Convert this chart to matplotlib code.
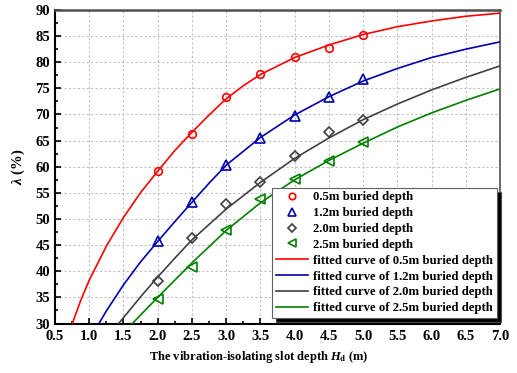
import numpy as np
import matplotlib
matplotlib.use("Agg")
import matplotlib.pyplot as plt
from matplotlib.ticker import MultipleLocator, FormatStrFormatter

plt.rcParams['font.family'] = ['Liberation Serif', 'DejaVu Serif']
plt.rcParams['font.weight'] = 'bold'
plt.rcParams['mathtext.fontset'] = 'custom'
plt.rcParams['mathtext.rm'] = 'Liberation Serif:bold'
plt.rcParams['mathtext.it'] = 'Liberation Serif:italic:bold'
plt.rcParams['mathtext.bf'] = 'Liberation Serif:bold'

# measured points (slot depth in m, lambda in %)
depth = [2.0, 2.5, 3.0, 3.5, 4.0, 4.5, 5.0]
lam_05 = [59.2, 66.3, 73.3, 77.8, 81.0, 82.8, 85.2]
lam_12 = [45.8, 53.3, 60.3, 65.5, 69.8, 73.3, 76.7]
lam_20 = [38.2, 46.4, 52.9, 57.1, 62.1, 66.7, 68.9]
lam_25 = [34.6, 40.9, 47.9, 53.8, 57.6, 61.1, 64.8]

# fitted curves
fit_x_05 = [0.753, 0.875, 1.0, 1.25, 1.5, 1.75, 2.0, 2.25, 2.5, 2.75, 3.0, 3.25, 3.5, 4.0, 4.5, 5.0, 5.5, 6.0, 6.5, 7.0]
fit_y_05 = [30.0, 34.4, 38.3, 44.8, 50.3, 55.05, 59.15, 63.1, 66.6, 69.9, 73.0, 75.5, 77.65, 80.9, 83.3, 85.3, 86.8, 87.9, 88.8, 89.4]
fit_x_12 = [1.142, 1.25, 1.5, 1.75, 2.0, 2.25, 2.5, 2.75, 3.0, 3.5, 4.0, 4.5, 5.0, 5.5, 6.0, 6.5, 7.0]
fit_y_12 = [30.0, 32.4, 37.4, 41.8, 45.7, 49.5, 53.2, 56.85, 60.3, 65.6, 69.9, 73.4, 76.4, 78.8, 80.9, 82.5, 83.9]
fit_x_20 = [1.43, 1.75, 2.0, 2.25, 2.5, 3.0, 3.5, 4.0, 4.5, 5.0, 5.5, 6.0, 6.5, 7.0]
fit_y_20 = [30.0, 35.1, 38.9, 42.5, 46.0, 51.9, 57.0, 61.6, 65.5, 69.0, 72.0, 74.7, 77.1, 79.3]
fit_x_25 = [1.63, 2.0, 2.5, 3.0, 3.5, 4.0, 4.5, 5.0, 5.5, 6.0, 6.5, 7.0]
fit_y_25 = [30.0, 35.0, 41.6, 47.8, 53.1, 57.5, 61.2, 64.5, 67.6, 70.3, 72.7, 74.9]

labels = ['0.5m', '1.2m', '2.0m', '2.5m']
colors = ['#ff0000', '#0000b0', '#404040', '#008000']
markers = ['o', '^', 'D', '<']
msizes = [5.5, 6.5, 5.0, 6.5]

fig = plt.figure(figsize=(5.17, 3.73), dpi=100)
ax = fig.add_axes([0.1064, 0.1327, 0.8607, 0.8405])

pts = [lam_05, lam_12, lam_20, lam_25]
fits = [(fit_x_05, fit_y_05), (fit_x_12, fit_y_12), (fit_x_20, fit_y_20), (fit_x_25, fit_y_25)]

handles = []
for lab, c, m, ms, y in zip(labels, colors, markers, msizes, pts):
    h, = ax.plot(depth, y, linestyle='none', marker=m, markersize=ms,
                 markerfacecolor='none', markeredgecolor=c, markeredgewidth=1.2,
                 label=lab + ' buried depth', zorder=4)
    handles.append(h)
for lab, c, (fx, fy) in zip(labels, colors, fits):
    h, = ax.plot(fx, fy, color=c, linewidth=1.2,
                 label='fitted curve of ' + lab + ' buried depth', zorder=3)
    handles.append(h)

ax.set_xlim(0.5, 7.0)
ax.set_ylim(30, 90)
ax.xaxis.set_major_locator(MultipleLocator(0.5))
ax.xaxis.set_minor_locator(MultipleLocator(0.25))
ax.yaxis.set_major_locator(MultipleLocator(5))
ax.yaxis.set_minor_locator(MultipleLocator(2.5))
ax.xaxis.set_major_formatter(FormatStrFormatter('%.1f'))
ax.tick_params(which='both', direction='in', top=False, right=False, labelsize=10.5, width=1.2)
ax.tick_params(which='major', length=4.5)
ax.tick_params(which='minor', length=2.5)
ax.tick_params(axis='x', pad=5)
for t in ax.get_xticklabels() + ax.get_yticklabels():
    t.set_fontweight('bold')

ax.grid(True, which='major', color='#c0c0c0', linestyle=(0, (2, 2)), linewidth=0.8)
ax.set_axisbelow(True)

ax.spines['left'].set_linewidth(1.5)
ax.spines['bottom'].set_linewidth(1.5)
ax.spines['top'].set_color('#505050')
ax.spines['top'].set_linewidth(1.8)
ax.spines['right'].set_color('#505050')
ax.spines['right'].set_linewidth(1.2)

ax.set_xlabel(r'The vibration-isolating slot depth $H_\mathrm{d}$ (m)', fontsize=9.0, fontweight='bold')
ax.xaxis.set_label_coords(0.457, -0.082)
ax.set_ylabel(r'$\lambda$ (%)', fontsize=10.5, fontweight='bold', labelpad=6)

leg = ax.legend(handles=handles, loc='lower right', bbox_to_anchor=(0.993, 0.0175),
                borderaxespad=0, fancybox=False, framealpha=1, edgecolor='#606060',
                prop={'family': 'Liberation Serif', 'weight': 'bold', 'size': 9.2},
                handlelength=2.5, handletextpad=0.4, labelspacing=0.3, borderpad=0.3,
                markerscale=0.85,
                shadow={'ox': 3, 'oy': -3, 'facecolor': 'black', 'alpha': 1})
leg.get_frame().set_linewidth(0.8)

fig.savefig('out.png', dpi=100)
